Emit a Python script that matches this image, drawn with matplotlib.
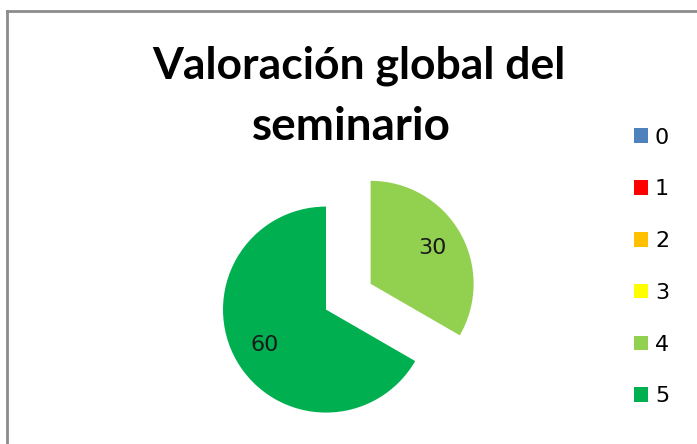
import matplotlib
matplotlib.use('Agg')
import matplotlib.pyplot as plt
from matplotlib.lines import Line2D

W, H = 697, 444

categorias = ['0', '1', '2', '3', '4', '5']
valores = [0, 0, 0, 0, 30, 60]
colores = ['#4F81BD', '#FF0000', '#FFC000', '#FFFF00', '#92D050', '#00B050']
titulo = ['Valoración global del', 'seminario']

fig = plt.figure(figsize=(W / 100, H / 100), dpi=100)
fig.patch.set_facecolor('white')

# borde gris del gráfico (solo arriba e izquierda quedan dentro)
fig.add_artist(Line2D([7 / W, 7 / W], [0, 1 - 11 / H], transform=fig.transFigure,
                      color='#8c8c8c', lw=2))
fig.add_artist(Line2D([7 / W, 1], [1 - 11 / H, 1 - 11 / H], transform=fig.transFigure,
                      color='#8c8c8c', lw=2))

# titulo
fig.text(359 / W, 1 - 78 / H, titulo[0], ha='center', va='baseline',
         fontsize=32, fontweight='bold', family='Lato', color='black')
fig.text(351 / W, 1 - 140 / H, titulo[1], ha='center', va='baseline',
         fontsize=33, fontweight='bold', family='Lato', color='black')

# tarta
R = 103
cx, cy = 348.3, H - 296.7
lim = 1.4
size = 2 * lim * R
ax = fig.add_axes([(cx - size / 2) / W, (cy - size / 2) / H, size / W, size / H])

total = sum(valores)


def etiqueta(p):
    v = p * total / 100
    return '' if v < 0.5 else f'{v:.0f}'


wedges, _, autotexts = ax.pie(valores, colors=colores, startangle=90, counterclock=False,
                              explode=[0.25] * len(valores), autopct=etiqueta,
                              pctdistance=0.69, wedgeprops={'linewidth': 0},
                              textprops={'fontsize': 16, 'color': '#1a1a1a'})
ax.set_xlim(-lim, lim)
ax.set_ylim(-lim, lim)
ax.set_aspect('equal')
ax.axis('off')

# leyenda
fig.legend(wedges, categorias, loc='center left',
           bbox_to_anchor=(634 / W, 1 - 267 / H), frameon=False,
           fontsize=16, handlelength=0.64, handleheight=0.64,
           handletextpad=0.3, labelspacing=1.43, borderpad=0, borderaxespad=0)

fig.savefig('out.png', dpi=100)
